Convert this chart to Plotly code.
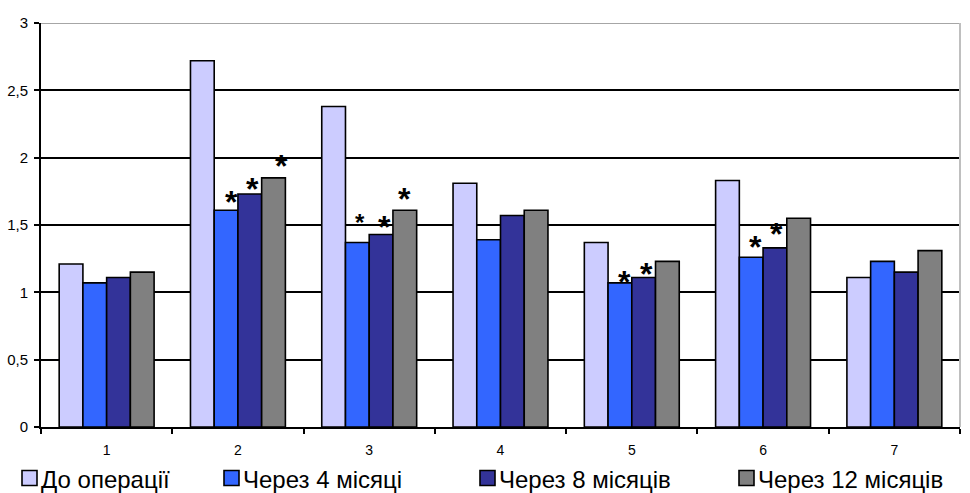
import plotly.graph_objects as go

# ---- data ----
categories = ["1", "2", "3", "4", "5", "6", "7"]
series_names = ["До операції", "Через 4 місяці", "Через 8 місяців", "Через 12 місяців"]
before_op = [1.21, 2.72, 2.38, 1.81, 1.37, 1.83, 1.11]
after_4m = [1.07, 1.61, 1.37, 1.39, 1.07, 1.26, 1.23]
after_8m = [1.11, 1.73, 1.43, 1.57, 1.11, 1.33, 1.15]
after_12m = [1.15, 1.85, 1.61, 1.61, 1.23, 1.55, 1.31]
y_ticks = [0, 0.5, 1, 1.5, 2, 2.5, 3]
# bars marked as significant: (category index, series index)
significant = [(1, 1), (1, 2), (1, 3), (2, 1), (2, 2), (2, 3), (4, 1), (4, 2), (5, 1), (5, 2)]

# ---- styling ----
colors = ["#CCCCFF", "#3366FF", "#333399", "#808080"]
FONT = "Liberation Sans, Arial, sans-serif"
W, H = 970, 493
ML, MR, MT, MB = 41, 10, 23, 66
BARGAP = 0.277

# star placement tweaks (pixels): x shift, lift above bar top, font size
star_style = {
    (1, 1): (5, 13, 32), (1, 2): (3, 10, 32), (1, 3): (8, 16, 32),
    (2, 1): (3, 23, 24), (2, 2): (3, 12, 32), (2, 3): (0, 16, 32),
    (4, 1): (5, 5, 32), (4, 2): (3, 8, 32), (5, 1): (4, 15, 32),
    (5, 2): (2, 18, 32),
}

all_series = [before_op, after_4m, after_8m, after_12m]

fig = go.Figure()
for name, vals, col in zip(series_names, all_series, colors):
    fig.add_trace(go.Bar(
        x=categories, y=vals, name=name,
        marker=dict(color=col, line=dict(color="black", width=1.6)),
        showlegend=False,
    ))

# significance asterisks above bars
bar_w = (1 - BARGAP) / 4
annotations = []
for (ci, si) in significant:
    dx, lift, size = star_style[(ci, si)]
    annotations.append(dict(
        x=ci + (si - 1.5) * bar_w, y=all_series[si][ci],
        xref="x", yref="y", text="<b>*</b>", showarrow=False,
        xanchor="center", yanchor="middle",
        xshift=dx, yshift=lift - 0.14 * size,
        font=dict(family=FONT, size=size, color="black"),
    ))

# legend row built from squares and labels
plot_w = W - ML - MR
plot_h = H - MT - MB

def px_x(px):
    return (px - ML) / plot_w

def px_y(py):
    return (H - MB - py) / plot_h

legend_sq = [22, 224, 480, 739]
legend_cy = 478
sq = 15
shapes = []
for x0, name, col in zip(legend_sq, series_names, colors):
    shapes.append(dict(
        type="rect", xref="paper", yref="paper",
        x0=px_x(x0), x1=px_x(x0 + sq),
        y0=px_y(legend_cy + sq / 2), y1=px_y(legend_cy - sq / 2),
        fillcolor=col, line=dict(color="black", width=1.6),
    ))
    annotations.append(dict(
        x=px_x(x0 + sq + 2), y=px_y(legend_cy + 1),
        xref="paper", yref="paper", text=name, showarrow=False,
        xanchor="left", yanchor="middle",
        font=dict(family=FONT, size=24, color="black"),
    ))

# plot-area border (top and right) in grey
shapes.append(dict(type="line", xref="paper", yref="y", x0=0, x1=1, y0=3, y1=3,
                   line=dict(color="#A6A6A6", width=2), layer="above"))
shapes.append(dict(type="line", xref="paper", yref="paper", x0=1, x1=1, y0=0, y1=1,
                   line=dict(color="#BFBFBF", width=2), layer="above"))

fig.update_layout(
    width=W, height=H,
    margin=dict(l=ML, r=MR, t=MT, b=MB, autoexpand=False),
    paper_bgcolor="white", plot_bgcolor="white",
    barmode="group", bargap=BARGAP, bargroupgap=0,
    separators=", ",
    font=dict(family=FONT, size=14, color="black"),
    annotations=annotations, shapes=shapes,
    xaxis=dict(
        type="category", tickson="boundaries", ticks="outside", ticklen=5,
        tickwidth=1.5, tickcolor="black", showline=True, linecolor="black",
        linewidth=2, showgrid=False, tickfont=dict(family=FONT, size=14),
        ticklabelstandoff=9, automargin=False,
    ),
    yaxis=dict(
        range=[0, 3], tickvals=y_ticks, ticks="outside", ticklen=5,
        tickwidth=1.5, tickcolor="black", showline=True, linecolor="black",
        linewidth=2, showgrid=True, gridcolor="black", gridwidth=2,
        zeroline=False, tickfont=dict(family=FONT, size=15), ticklabelstandoff=3,
        automargin=False,
    ),
)

fig.write_html("out.html")
